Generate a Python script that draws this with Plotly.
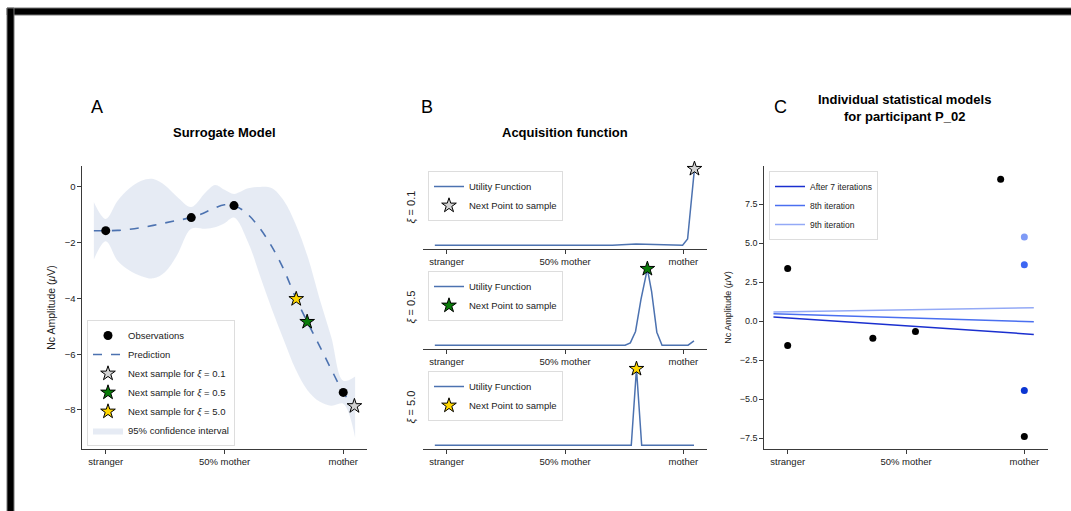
import plotly.graph_objects as go

W, H = 1071, 511
FONT = "Liberation Sans, Arial, sans-serif"

# ---------------- data ----------------
x_tick_vals = [0, 0.5, 1]
x_tick_text = ["stranger", "50% mother", "mother"]

# Panel A: surrogate model
obs_x = [0.0, 0.36, 0.54, 1.0]
obs_y = [-1.57, -1.1, -0.67, -7.37]

pred_x = [-0.05, 0.0, 0.05, 0.1, 0.15, 0.2, 0.25, 0.3, 0.35, 0.4, 0.45, 0.5,
          0.55, 0.6, 0.65, 0.7, 0.75, 0.8, 0.85, 0.9, 0.95, 1.0, 1.05]
pred_y = [-1.57, -1.57, -1.56, -1.52, -1.46, -1.38, -1.29, -1.2, -1.12, -0.98, -0.79, -0.64,
          -0.7, -1.0, -1.5, -2.15, -2.97, -3.98, -4.86, -5.7, -6.55, -7.37, -7.95]

ci_x = [-0.05, 0.0, 0.05, 0.1, 0.15, 0.2, 0.25, 0.3, 0.36, 0.42, 0.46, 0.5,
        0.54, 0.6, 0.65, 0.7, 0.75, 0.8, 0.85, 0.9, 0.95, 1.0, 1.05]
ci_hi = [-0.55, -1.15, -0.5, -0.05, 0.22, 0.28, 0.05, -0.35, -0.72, -0.2, 0.07, -0.1,
         -0.25, -0.05, 0.0, -0.05, -0.5, -1.35, -2.5, -4.0, -5.4, -6.95, -6.8]
ci_lo = [-2.6, -1.95, -2.65, -3.0, -3.2, -3.28, -3.05, -2.45, -1.5, -1.5, -1.45, -1.3,
         -1.1, -2.0, -3.2, -4.4, -5.5, -6.55, -7.3, -7.7, -7.85, -7.78, -9.0]

xi_labels = ["0.1", "0.5", "5.0"]
next_x = [1.047, 0.848, 0.802]
next_y = [-7.86, -4.84, -4.02]
star_colors = ["#d3d3d3", "#0a7d0a", "#ffd700"]

# Panel B: acquisition (utility) functions, normalised
util1_x = [-0.05, 0.7, 0.8, 0.86, 0.997, 1.018, 1.047]
util1_y = [0.0, 0.0, 0.015, 0.012, 0.0, 0.08, 1.0]
util2_x = [-0.05, 0.754, 0.776, 0.798, 0.821, 0.848, 0.866, 0.888, 0.91, 1.02, 1.045]
util2_y = [0.0, 0.0, 0.03, 0.18, 0.6, 1.0, 0.7, 0.17, 0.0, 0.0, 0.055]
util3_x = [-0.05, 0.78, 0.802, 0.824, 1.045]
util3_y = [0.0, 0.0, 1.0, 0.0, 0.0]
util_x = [util1_x, util2_x, util3_x]
util_y = [util1_y, util2_y, util3_y]

# Panel C: individual statistical models
c_obs_x = [0.0, 0.0, 0.36, 0.54, 0.9, 1.0]
c_obs_y = [3.38, -1.57, -1.1, -0.67, 9.1, -7.4]
c_new_x = [1.0, 1.0, 1.0]
c_new_y = [-4.45, 3.62, 5.4]
c_new_colors = ["#0b35d2", "#3d66f2", "#7e9af6"]

model_names = ["After 7 iterations", "8th iteration", "9th iteration"]
model_x = [-0.06, 1.04]
model_y = [[0.26, -0.85], [0.47, -0.04], [0.58, 0.86]]
model_colors = ["#1a2fcf", "#4a6ff0", "#93a9f6"]

# ---------------- helpers (pixel -> paper) ----------------
def xd(p0, p1):
    return [p0 / W, p1 / W]

def yd(top, bot):
    return [1 - bot / H, 1 - top / H]

def px(x):
    return x / W

def py(y):
    return 1 - y / H

fig = go.Figure()
BLUE = "#4c72b0"

# ---- Panel A ----
fig.add_trace(go.Scatter(
    x=ci_x, y=ci_lo, mode="lines", line=dict(width=0, shape="spline", smoothing=1),
    showlegend=False, xaxis="x", yaxis="y", hoverinfo="skip"))
fig.add_trace(go.Scatter(
    x=ci_x, y=ci_hi, fill="tonexty", fillcolor="rgba(76,114,176,0.14)",
    line=dict(width=0, shape="spline", smoothing=1), mode="lines",
    name="95% confidence interval", legend="legend", legendrank=6,
    xaxis="x", yaxis="y", hoverinfo="skip"))
fig.add_trace(go.Scatter(
    x=pred_x, y=pred_y, mode="lines",
    line=dict(color=BLUE, dash="dash", width=1.6, shape="spline", smoothing=1),
    name="Prediction", legend="legend", legendrank=2, xaxis="x", yaxis="y"))
fig.add_trace(go.Scatter(
    x=obs_x, y=obs_y, mode="markers", marker=dict(color="black", size=9),
    name="Observations", legend="legend", legendrank=1, xaxis="x", yaxis="y"))
for i in range(3):
    fig.add_trace(go.Scatter(
        x=[next_x[i]], y=[next_y[i]], mode="markers", cliponaxis=False,
        marker=dict(symbol="star", size=11, color=star_colors[i],
                    line=dict(color="black", width=1)),
        name="Next sample for <i>ξ</i> = " + xi_labels[i],
        legend="legend", legendrank=3 + i, xaxis="x", yaxis="y"))

# ---- Panel B ----
for i in range(3):
    ax = str(i + 2)
    lg = "legend" + ax
    fig.add_trace(go.Scatter(
        x=util_x[i], y=util_y[i], mode="lines", line=dict(color=BLUE, width=1.5),
        name="Utility Function", legend=lg, xaxis="x" + ax, yaxis="y" + ax))
    fig.add_trace(go.Scatter(
        x=[next_x[i]], y=[max(util_y[i])], mode="markers", cliponaxis=False,
        marker=dict(symbol="star", size=11, color=star_colors[i],
                    line=dict(color="black", width=1)),
        name="Next Point to sample", legend=lg, xaxis="x" + ax, yaxis="y" + ax))

# ---- Panel C ----
for i in range(3):
    fig.add_trace(go.Scatter(
        x=model_x, y=model_y[i], mode="lines", line=dict(color=model_colors[i], width=1.5),
        name=model_names[i], legend="legend5", xaxis="x5", yaxis="y5"))
fig.add_trace(go.Scatter(
    x=c_obs_x, y=c_obs_y, mode="markers", marker=dict(color="black", size=7),
    showlegend=False, xaxis="x5", yaxis="y5"))
fig.add_trace(go.Scatter(
    x=c_new_x, y=c_new_y, mode="markers", marker=dict(color=c_new_colors, size=7),
    showlegend=False, xaxis="x5", yaxis="y5"))

# ---------------- layout ----------------
SPINE = "#3a3a3a"
tickfont = dict(family=FONT, size=9.5, color="#222")

def xaxis(domain, anchor):
    return dict(domain=domain, anchor=anchor, range=[-0.1, 1.1],
                tickvals=x_tick_vals, ticktext=x_tick_text, tickfont=tickfont,
                showline=True, linecolor=SPINE, linewidth=1.2, ticks="outside",
                ticklen=3.5, tickcolor=SPINE, showgrid=False, zeroline=False)

legend_style = dict(bgcolor="rgba(255,255,255,0.85)", bordercolor="#dddddd", borderwidth=1,
                    font=dict(family=FONT, size=9.5, color="#222"),
                    xanchor="left", yanchor="top", tracegroupgap=0, traceorder="normal")

layout = dict(
    width=W, height=H, margin=dict(l=0, r=0, t=0, b=0),
    paper_bgcolor="white", plot_bgcolor="white",
    font=dict(family=FONT, color="#222"),
    xaxis=xaxis(xd(82, 367), "y"),
    yaxis=dict(domain=yd(166, 449), anchor="x", range=[-9.4, 0.75],
               tickvals=[-8, -6, -4, -2, 0], tickfont=tickfont,
               showline=True, linecolor=SPINE, linewidth=1.2, ticks="outside",
               ticklen=3.5, tickcolor=SPINE, showgrid=False, zeroline=False,
               title=dict(text="Nc Amplitude (<i>μ</i>V)", font=dict(family=FONT, size=10.5),
                          standoff=6)),
    legend=dict(legend_style, x=px(87), y=py(446), yanchor="bottom"),
    xaxis5=xaxis(xd(764, 1048), "y5"),
    yaxis5=dict(domain=yd(166, 449), anchor="x5", range=[-8.2, 9.95],
                tickvals=[-7.5, -5, -2.5, 0, 2.5, 5, 7.5], tickformat=".1f",
                tickfont=dict(family=FONT, size=9, color="#222"),
                showline=True, linecolor=SPINE, linewidth=1.2, ticks="outside",
                ticklen=3.5, tickcolor=SPINE, showgrid=False, zeroline=False,
                title=dict(text="Nc Amplitude (<i>μ</i>V)", font=dict(family=FONT, size=9),
                           standoff=6)),
    legend5=dict(legend_style, x=px(769), y=py(171), font=dict(family=FONT, size=8.5, color="#222")),
)

b_tops = [165, 265, 365]
for i in range(3):
    ax = str(i + 2)
    top = b_tops[i]
    layout["xaxis" + ax] = xaxis(xd(423, 707), "y" + ax)
    layout["yaxis" + ax] = dict(domain=yd(top, top + 84), anchor="x" + ax, range=[-0.05, 1.05],
                                showline=False, showticklabels=False, ticks="", showgrid=False,
                                zeroline=False,
                                title=dict(text="<i>ξ</i> = " + xi_labels[i],
                                           font=dict(family=FONT, size=11), standoff=4))
    layout["legend" + ax] = dict(legend_style, x=px(428), y=py(top + 6))

fig.update_layout(**layout)

ann = []
for letter, x, y in [("A", 96.7, 106.7), ("B", 426.7, 107), ("C", 780, 106.7)]:
    ann.append(dict(text=letter, x=px(x), y=py(y), xref="paper", yref="paper",
                    showarrow=False, xanchor="center", yanchor="middle",
                    font=dict(family=FONT, size=18, color="black")))
for title, x, y in [("<b>Surrogate Model</b>", 224.5, 133), ("<b>Acquisition function</b>", 565, 133),
                    ("<b>Individual statistical models<br>for participant P_02</b>", 904, 108)]:
    ann.append(dict(text=title, x=px(x), y=py(y), xref="paper", yref="paper",
                    showarrow=False, xanchor="center", yanchor="middle",
                    font=dict(family=FONT, size=13, color="black")))
fig.update_layout(annotations=ann)

# black frame (top and left edges)
fig.add_shape(type="rect", xref="paper", yref="paper", x0=px(7), x1=1.01, y0=py(15), y1=py(8),
              fillcolor="black", line=dict(color="#777", width=1), layer="above")
fig.add_shape(type="rect", xref="paper", yref="paper", x0=px(7), x1=px(14), y0=-0.01, y1=py(8),
              fillcolor="black", line=dict(color="#777", width=1), layer="above")

fig.write_html("out.html")
